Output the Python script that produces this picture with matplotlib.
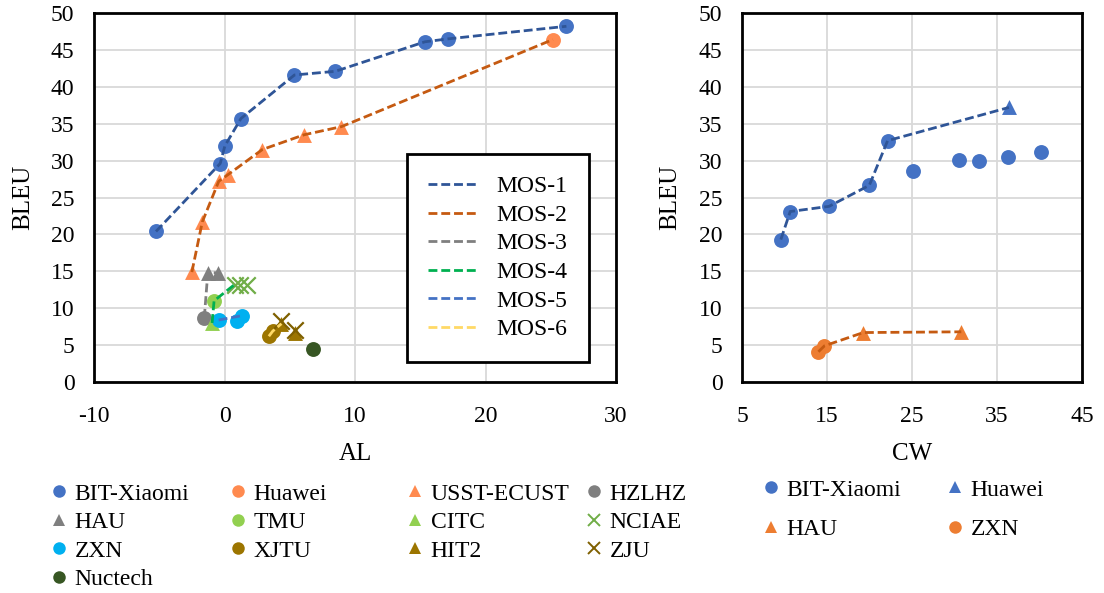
import matplotlib
matplotlib.use("Agg")
import matplotlib.pyplot as plt
from matplotlib.lines import Line2D

plt.rcParams['font.family'] = ['Liberation Serif', 'DejaVu Serif']
plt.rcParams['axes.unicode_minus'] = False

# ---- left chart (AL vs BLEU) ----
bit_al = [-5.25, -0.33, 0.03, 1.26, 5.36, 8.5, 15.36, 17.16, 26.2]
bit_bleu = [20.4, 29.6, 32.0, 35.7, 41.6, 42.1, 46.1, 46.5, 48.2]
huawei_al = [25.16]
huawei_bleu = [46.4]
usst_al = [-2.5, -1.7, -0.44, 0.27, 2.9, 6.1, 8.96]
usst_bleu = [14.9, 21.7, 27.2, 28.1, 31.5, 33.5, 34.6]
hzlhz_al = [-1.55]
hzlhz_bleu = [8.7]
hau_al = [-1.28, -0.52]
hau_bleu = [14.8, 14.8]
tmu_al = [-0.8]
tmu_bleu = [11.0]
citc_al = [-0.95]
citc_bleu = [8.0]
nciae_al = [0.77, 1.15, 1.72]
nciae_bleu = [13.2, 13.2, 13.1]
zxn_al = [-0.45, 0.97, 1.36]
zxn_bleu = [8.4, 8.3, 9.0]
xjtu_al = [3.4, 3.7]
xjtu_bleu = [6.2, 6.9]
hit2_al = [4.36, 5.38]
hit2_bleu = [7.9, 6.7]
zju_al = [4.36, 5.4]
zju_bleu = [8.2, 7.0]
nuctech_al = [6.8]
nuctech_bleu = [4.5]

# ---- right chart (CW vs BLEU) ----
bit_cw = [9.57, 10.67, 15.24, 19.98, 22.13, 25.06, 30.53, 32.88, 36.28, 40.19]
bit_cw_bleu = [19.3, 23.1, 23.8, 26.65, 32.7, 28.6, 30.1, 29.9, 30.45, 31.1]
huawei_cw = [36.4]
huawei_cw_bleu = [37.2]
hau_cw = [19.27, 30.8]
hau_cw_bleu = [6.7, 6.8]
zxn_cw = [13.99, 14.7]
zxn_cw_bleu = [4.1, 4.9]

fig = plt.figure(figsize=(11.04, 5.93), dpi=100)
ax1 = fig.add_axes([94/1104, 211/593, 522/1104, 369/593])
ax2 = fig.add_axes([742/1104, 211/593, 340/1104, 369/593])

ms = 115
left_series = [
    ("BIT-Xiaomi", bit_al, bit_bleu, 'o', '#4472C4'),
    ("Huawei", huawei_al, huawei_bleu, 'o', '#FF8A4F'),
    ("USST-ECUST", usst_al, usst_bleu, '^', '#FF8A4F'),
    ("HZLHZ", hzlhz_al, hzlhz_bleu, 'o', '#7F7F7F'),
    ("HAU", hau_al, hau_bleu, '^', '#7F7F7F'),
    ("TMU", tmu_al, tmu_bleu, 'o', '#92D050'),
    ("CITC", citc_al, citc_bleu, '^', '#92D050'),
    ("NCIAE", nciae_al, nciae_bleu, 'x', '#70AD47'),
    ("ZXN", zxn_al, zxn_bleu, 'o', '#00B0F0'),
    ("XJTU", xjtu_al, xjtu_bleu, 'o', '#9C7500'),
    ("HIT2", hit2_al, hit2_bleu, '^', '#9C7500'),
    ("ZJU", zju_al, zju_bleu, 'x', '#7F6000'),
    ("Nuctech", nuctech_al, nuctech_bleu, 'o', '#375623'),
]
handles = {}
for name, xs, ys, mk, c in left_series:
    if mk == 'x':
        ax1.scatter(xs, ys, s=140, marker='x', color=c, linewidths=1.6, zorder=3)
    else:
        ax1.scatter(xs, ys, s=ms, marker=mk, color=c, linewidths=0, zorder=3)
    handles[name] = Line2D([], [], ls='none', marker=mk, color=c, markersize=9,
                           markeredgewidth=1.4 if mk == 'x' else 0)

dash = (3.2, 1.4)
mos = [
    ("MOS-1", bit_al, bit_bleu, '#2F5597'),
    ("MOS-2", usst_al + huawei_al, usst_bleu + huawei_bleu, '#C55A11'),
    ("MOS-3", hzlhz_al + hau_al, hzlhz_bleu + hau_bleu, '#7F7F7F'),
    ("MOS-4", citc_al + tmu_al + nciae_al[:1], citc_bleu + tmu_bleu + nciae_bleu[:1], '#00B050'),
    ("MOS-5", [zxn_al[0], zxn_al[2]], [zxn_bleu[0], zxn_bleu[2]], '#4472C4'),
    ("MOS-6", xjtu_al + hit2_al[:1], xjtu_bleu + hit2_bleu[:1], '#FFD966'),
]
for name, xs, ys, c in mos:
    ax1.plot(xs, ys, ls='--', dashes=dash, color=c, lw=2, label=name, zorder=4)

ax2.plot(bit_cw[:5] + huawei_cw, bit_cw_bleu[:5] + huawei_cw_bleu, ls='--', dashes=dash,
         color='#2F5597', lw=2, zorder=4)
ax2.plot(zxn_cw + hau_cw, zxn_cw_bleu + hau_cw_bleu, ls='--', dashes=dash,
         color='#C55A11', lw=2, zorder=4)
ax2.scatter(bit_cw, bit_cw_bleu, s=ms, marker='o', color='#4472C4', linewidths=0, zorder=3)
ax2.scatter(huawei_cw, huawei_cw_bleu, s=ms, marker='^', color='#4472C4', linewidths=0, zorder=3)
ax2.scatter(hau_cw, hau_cw_bleu, s=ms, marker='^', color='#ED7D31', linewidths=0, zorder=3)
ax2.scatter(zxn_cw, zxn_cw_bleu, s=ms, marker='o', color='#ED7D31', linewidths=0, zorder=3)

for ax in (ax1, ax2):
    ax.set_ylim(0, 50)
    ax.set_yticks(range(0, 51, 5))
    ax.grid(True, color='#D9D9D9', lw=1.3)
    ax.set_axisbelow(True)
    ax.tick_params(length=0, labelsize=17, pad=14)
    ax.tick_params(axis='x', pad=17)
    for sp in ax.spines.values():
        sp.set_linewidth(2)
        sp.set_color('black')

ax1.set_xlim(-10, 30)
ax1.set_xticks(range(-10, 31, 10))
ax2.set_xlim(5, 45)
ax2.set_xticks(range(5, 46, 10))

ax1.set_xlabel("AL", fontsize=18)
ax1.xaxis.set_label_coords(0.5, -0.165)
ax1.set_ylabel("BLEU", fontsize=18)
ax1.yaxis.set_label_coords(-0.115, 0.5)
ax2.set_xlabel("CW", fontsize=18)
ax2.xaxis.set_label_coords(0.5, -0.165)
ax2.set_ylabel("BLEU", fontsize=18)
ax2.yaxis.set_label_coords(-0.18, 0.5)

leg = ax1.legend(loc='center', bbox_to_anchor=(0.594, 0.062, 0.36, 0.548), fontsize=17,
                 handlelength=2.1, handletextpad=0.8, labelspacing=0.3, borderpad=0.9,
                 fancybox=False, edgecolor='black', framealpha=1)
leg.get_frame().set_linewidth(2)

# bottom legends, one per column
left_cols = [["BIT-Xiaomi", "HAU", "ZXN", "Nuctech"],
             ["Huawei", "TMU", "XJTU"],
             ["USST-ECUST", "CITC", "HIT2"],
             ["HZLHZ", "NCIAE", "ZJU"]]
col_x = [50, 229, 406, 585]
for names, x in zip(left_cols, col_x):
    fig.legend([handles[n] for n in names], names, loc='upper left',
               bbox_to_anchor=(x/1104, 1 - 483/593), frameon=False, fontsize=17,
               handlelength=0.8, handletextpad=0.25, labelspacing=0.3, borderpad=0,
               borderaxespad=0)

right_cols = [[("BIT-Xiaomi", 'o'), ("HAU", '^')], [("Huawei", '^'), ("ZXN", 'o')]]
right_colors = {"BIT-Xiaomi": '#4472C4', "Huawei": '#4472C4', "HAU": '#ED7D31', "ZXN": '#ED7D31'}
for items, x in zip(right_cols, [762, 946]):
    hs = [Line2D([], [], ls='none', marker=m, color=right_colors[n], markersize=9,
                 markeredgewidth=0) for n, m in items]
    fig.legend(hs, [n for n, m in items], loc='upper left',
               bbox_to_anchor=(x/1104, 1 - 479/593), frameon=False, fontsize=17,
               handlelength=0.8, handletextpad=0.25, labelspacing=0.75, borderpad=0,
               borderaxespad=0)

fig.savefig("out.png", dpi=100)
